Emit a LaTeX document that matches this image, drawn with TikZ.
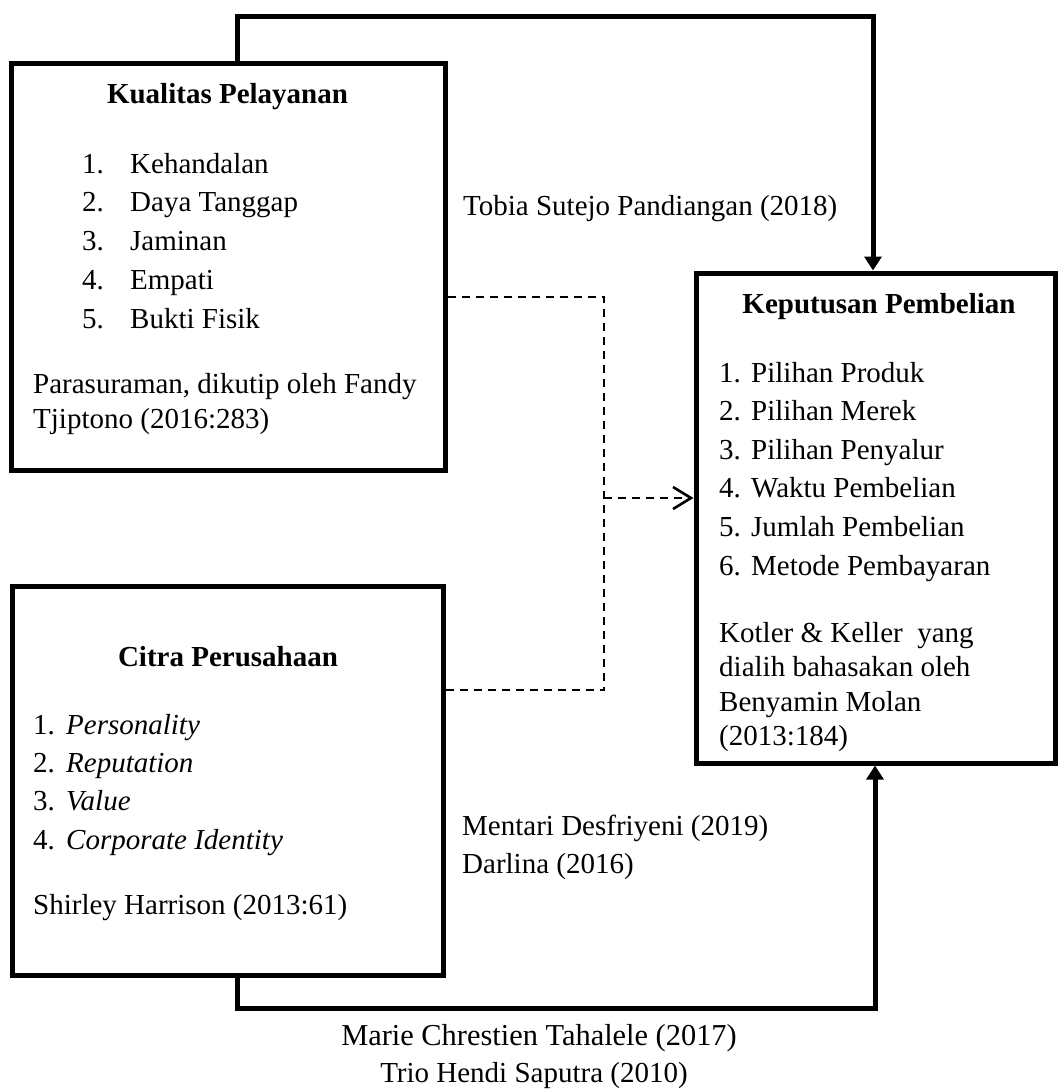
\documentclass[tikz,border=0pt]{standalone}
\usepackage{fontspec}
\setmainfont{Liberation Serif}
\usetikzlibrary{arrows.meta}
\begin{document}
\begin{tikzpicture}[x=1pt,y=-1pt,
  box/.style={draw,line width=5pt,inner sep=0pt,rectangle},
  txt/.style={anchor=base west,inner sep=0pt,font=\fontsize{29}{35}\selectfont},
  head/.style={anchor=base,inner sep=0pt,font=\fontsize{29}{35}\selectfont\bfseries},
  conn/.style={line width=5pt,-{Triangle[length=14pt,width=17pt]}},
  dashconn/.style={line width=2.2pt,dash pattern=on 8pt off 6pt},
]
\useasboundingbox (0,0) rectangle (1059,1090);
% boxes
\node[box,minimum width=434pt,minimum height=407pt] (kp) at (228,266.5) {};
\node[box,minimum width=431pt,minimum height=389pt] (cp) at (227.5,780.5) {};
\node[box,minimum width=359pt,minimum height=490pt] (kep) at (875.5,518) {};
% Kualitas Pelayanan
\node[head] (kph) at (227.5,103) {Kualitas Pelayanan};
\node[txt] (kn1) at (82,173) {1.};
\node[txt] (kt1) at (130,173) {Kehandalan};
\node[txt] (kn2) at (82,211.8) {2.};
\node[txt] (kt2) at (130,211.8) {Daya Tanggap};
\node[txt] (kn3) at (82,250.6) {3.};
\node[txt] (kt3) at (130,250.6) {Jaminan};
\node[txt] (kn4) at (82,289.4) {4.};
\node[txt] (kt4) at (130,289.4) {Empati};
\node[txt] (kn5) at (82,328.2) {5.};
\node[txt] (kt5) at (130,328.2) {Bukti Fisik};
\node[txt] (ks1) at (33,393) {Parasuraman, dikutip oleh Fandy};
\node[txt] (ks2) at (33,428) {Tjiptono (2016:283)};
% Keputusan Pembelian
\node[head] (keh) at (879,313) {Keputusan Pembelian};
\node[txt] (en1) at (719,382) {1.};
\node[txt] (et1) at (751,382) {Pilihan Produk};
\node[txt] (en2) at (719,420.6) {2.};
\node[txt] (et2) at (751,420.6) {Pilihan Merek};
\node[txt] (en3) at (719,459.2) {3.};
\node[txt] (et3) at (751,459.2) {Pilihan Penyalur};
\node[txt] (en4) at (719,497.8) {4.};
\node[txt] (et4) at (751,497.8) {Waktu Pembelian};
\node[txt] (en5) at (719,536.4) {5.};
\node[txt] (et5) at (751,536.4) {Jumlah Pembelian};
\node[txt] (en6) at (719,575) {6.};
\node[txt] (et6) at (751,575) {Metode Pembayaran};
\node[txt] (es1) at (719,642) {Kotler \& Keller\ \ yang};
\node[txt] (es2) at (719,676.5) {dialih bahasakan oleh};
\node[txt] (es3) at (719,711) {Benyamin Molan};
\node[txt] (es4) at (719,745.5) {(2013:184)};
% Citra Perusahaan
\node[head] (cph) at (228,666) {Citra Perusahaan};
\node[txt] (cn1) at (33,734) {1.};
\node[txt] (ct1) at (66,734) {\itshape Personality};
\node[txt] (cn2) at (33,772) {2.};
\node[txt] (ct2) at (66,772) {\itshape Reputation};
\node[txt] (cn3) at (33,810) {3.};
\node[txt] (ct3) at (66,810) {\itshape Value};
\node[txt] (cn4) at (33,849) {4.};
\node[txt] (ct4) at (66,849) {\itshape Corporate Identity};
\node[txt] (cs1) at (33,914) {Shirley Harrison (2013:61)};
% free labels
\node[txt] (tobia) at (463,215) {Tobia Sutejo Pandiangan (2018)};
\node[txt] (mentari) at (462,835) {Mentari Desfriyeni (2019)};
\node[txt] (darlina) at (462,873) {Darlina (2016)};
\node[anchor=base,inner sep=0pt,font=\fontsize{30.4}{36}\selectfont] (marie) at (539,1045) {Marie Chrestien Tahalele (2017)};
\node[anchor=base,inner sep=0pt,font=\fontsize{29}{35}\selectfont] (trio) at (534,1082) {Trio Hendi Saputra (2010)};
% solid connectors
\coordinate (t1) at (237,16);
\coordinate (t2) at (873,16);
\draw[conn] (kp.north -| t1) -- (t1) -- (t2) -- (kep.north -| t2);
\coordinate (b1) at (237,1008);
\coordinate (b2) at (875,1008);
\draw[conn] (cp.south -| b1) -- (b1) -- (b2) -- (kep.south -| b2);
% dashed connectors
\coordinate (d1) at (604,297);
\coordinate (d2) at (604,690);
\coordinate (d3) at (604,498);
\draw[dashconn] (kp.east |- d1) -- (d1) -- (d2) -- (cp.east |- d2);
\draw[dashconn,-{Straight Barb[length=18pt,width=22pt,line width=2.6pt]}] (d3) -- (kep.west |- d3);
\end{tikzpicture}
\end{document}
